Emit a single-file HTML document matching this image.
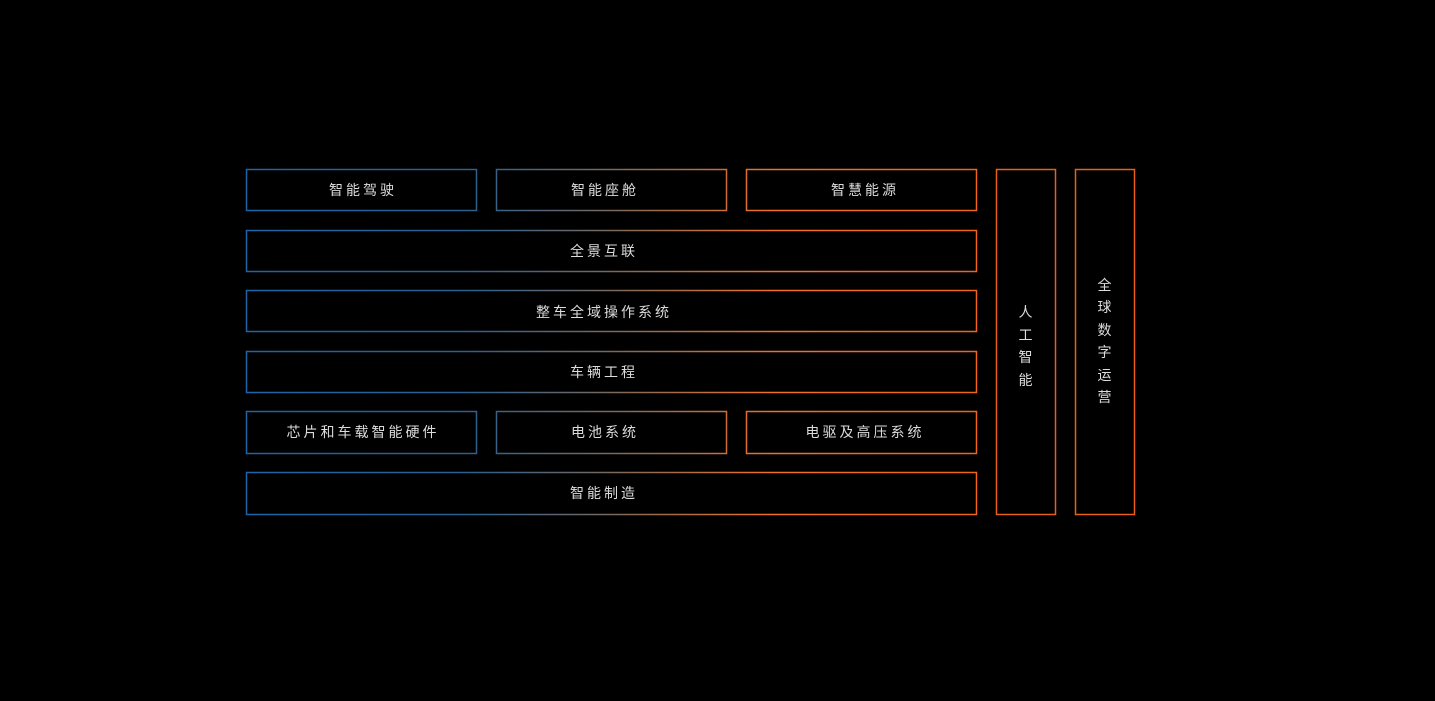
<!DOCTYPE html>
<html><head><meta charset="utf-8"><style>
html,body{margin:0;padding:0;background:#000;width:1435px;height:701px;overflow:hidden}
text{font-family:"Liberation Sans","Noto Sans CJK SC",sans-serif;font-size:14px;fill:#dcdcdc;letter-spacing:3px}
</style></head><body>
<svg width="1435" height="701" xmlns="http://www.w3.org/2000/svg">
<defs>
<linearGradient id="g" gradientUnits="userSpaceOnUse" x1="246" y1="0" x2="977" y2="0">
<stop offset="0" stop-color="#1f64a6"/>
<stop offset="0.3" stop-color="#2a5f90"/>
<stop offset="0.5" stop-color="#7a6a5c"/>
<stop offset="0.72" stop-color="#f07028"/>
<stop offset="1" stop-color="#f0641c"/>
</linearGradient>
</defs>
<g fill="none" stroke="url(#g)" stroke-width="1.5">
<rect x="246.5" y="169.5" width="230" height="41"/>
<rect x="496.5" y="169.5" width="230" height="41"/>
<rect x="746.5" y="169.5" width="230" height="41"/>
<rect x="246.5" y="230.5" width="730" height="41"/>
<rect x="246.5" y="290.5" width="730" height="41"/>
<rect x="246.5" y="351.5" width="730" height="41"/>
<rect x="246.5" y="411.5" width="230" height="42"/>
<rect x="496.5" y="411.5" width="230" height="42"/>
<rect x="746.5" y="411.5" width="230" height="42"/>
<rect x="246.5" y="472.5" width="730" height="42"/>
</g>
<g fill="none" stroke="#e8601a" stroke-width="1.5">
<rect x="996.5" y="169.5" width="59" height="345"/>
<rect x="1075.5" y="169.5" width="59" height="345"/>
</g>
<g text-anchor="middle">
<text x="363" y="195">智能驾驶</text>
<text x="605" y="195">智能座舱</text>
<text x="865" y="195">智慧能源</text>
<text x="604" y="256">全景互联</text>
<text x="604" y="317">整车全域操作系统</text>
<text x="604" y="377">车辆工程</text>
<text x="363" y="437">芯片和车载智能硬件</text>
<text x="605" y="437">电池系统</text>
<text x="865" y="437">电驱及高压系统</text>
<text x="604" y="498">智能制造</text>
</g>
<g text-anchor="middle" style="letter-spacing:0">
<text x="1027" y="317">人</text>
<text x="1027" y="340">工</text>
<text x="1027" y="362">智</text>
<text x="1027" y="385">能</text>
<text x="1106" y="290">全</text>
<text x="1106" y="312">球</text>
<text x="1106" y="335">数</text>
<text x="1106" y="357">字</text>
<text x="1106" y="380">运</text>
<text x="1106" y="402">营</text>
</g>
</svg>
</body></html>
